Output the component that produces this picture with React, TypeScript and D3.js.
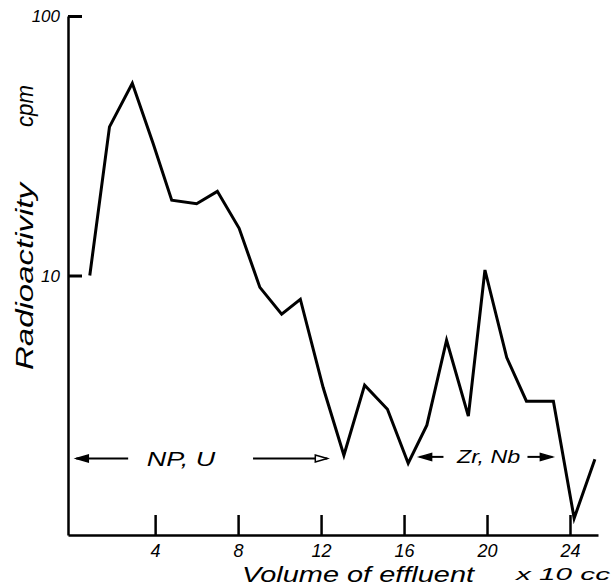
import React, { useRef, useEffect } from 'react';
import * as d3 from 'd3';

// volume of effluent (x 10 cc) and radioactivity (cpm)
const volume = [0.85, 1.8, 2.9, 3.9, 4.8, 6.0, 7.0, 8.05, 9.05, 10.1, 11.0, 12.1, 13.1,
  14.1, 15.2, 16.2, 17.1, 18.05, 19.1, 19.9, 20.95, 21.9, 23.2, 24.2, 25.2];
const cpm = [10.0, 37.4, 55.0, 32.3, 19.5, 18.9, 21.1, 15.2, 9.0, 7.1, 8.1, 3.7, 2.03,
  3.78, 3.05, 1.89, 2.65, 5.63, 2.87, 10.5, 4.83, 3.28, 3.28, 1.16, 1.96];

const xTicks = [4, 8, 12, 16, 20, 24];
const xTickLabels = ['4', '8', '12', '16', '20', '24'];
const yTicks = [10, 100];
const yTickLabels = ['10', '100'];

// band annotations: [arrow from, arrow to] in volume units, label, label range
const npArrowLeft = [0.2, 2.7];
const npArrowRight = [8.72, 12.3];
const npLabel = 'NP, U';
const npLabelRange = [3.6, 6.9];
const npLevel = 1.97;
const zrArrowLeft = [16.75, 17.9];
const zrArrowRight = [21.95, 23.15];
const zrLabel = 'Zr, Nb';
const zrLabelRange = [18.55, 21.6];
const zrLevel = 2.0;

const FONT = '"Liberation Sans", "DejaVu Sans", sans-serif';

const App: React.FC = () => {
  const svgRef = useRef<SVGSVGElement | null>(null);

  useEffect(() => {
    const svg = d3.select(svgRef.current!);
    svg.selectAll('*').remove();

    const x = d3.scaleLinear().domain([-0.2, 25.35]).range([68, 598]);
    const y = d3.scaleLog().domain([1, 100]).range([535, 16]);

    // x axis with upward ticks
    const xAxis = svg.append('g')
      .attr('transform', `translate(0,${y(1)})`)
      .call(d3.axisBottom(x).tickValues(xTicks).tickSizeInner(-20).tickSizeOuter(0)
        .tickFormat((_, i) => xTickLabels[i]));
    xAxis.select('.domain').attr('stroke', '#000').attr('stroke-width', 2.5);
    xAxis.selectAll('.tick line').attr('stroke', '#000').attr('stroke-width', 2.5);
    xAxis.selectAll('.tick text')
      .attr('y', 22)
      .attr('dy', 0)
      .attr('font-family', FONT)
      .attr('font-style', 'italic')
      .attr('font-size', 18)
      .attr('fill', '#000');

    // y axis with ticks to the right
    const yAxis = svg.append('g')
      .attr('transform', `translate(${x(-0.2)},0)`)
      .call(d3.axisLeft(y).tickValues(yTicks).tickSizeInner(-14).tickSizeOuter(0)
        .tickFormat((_, i) => yTickLabels[i]));
    yAxis.select('.domain').attr('stroke', '#000').attr('stroke-width', 2.5);
    yAxis.selectAll('.tick line').attr('stroke', '#000').attr('stroke-width', 3);
    yAxis.selectAll('.tick text')
      .attr('x', -8)
      .attr('dy', '0.35em')
      .attr('font-family', FONT)
      .attr('font-style', 'italic')
      .attr('font-size', 17)
      .attr('fill', '#000');

    // data line
    const line = d3.line<number>()
      .x((_, i) => x(volume[i]))
      .y((d) => y(d));
    svg.append('path')
      .datum(cpm)
      .attr('fill', 'none')
      .attr('stroke', '#000')
      .attr('stroke-width', 3)
      .attr('stroke-linejoin', 'miter')
      .attr('d', line);

    // arrows
    const arrow = (from: number, to: number, level: number, dir: number, open: boolean) => {
      const yy = y(level);
      const x0 = x(from);
      const x1 = x(to);
      svg.append('line')
        .attr('x1', x0).attr('x2', x1)
        .attr('y1', yy).attr('y2', yy)
        .attr('stroke', '#000').attr('stroke-width', 2);
      const tip = dir < 0 ? x0 : x1;
      const back = tip - dir * 12;
      svg.append('path')
        .attr('d', `M${tip},${yy} L${back},${yy - 3.5} L${back},${yy + 3.5} Z`)
        .attr('fill', open ? '#fff' : '#000')
        .attr('stroke', '#000')
        .attr('stroke-width', 1.5);
    };
    arrow(npArrowLeft[0], npArrowLeft[1], npLevel, -1, false);
    arrow(npArrowRight[0], npArrowRight[1], npLevel, 1, true);
    arrow(zrArrowLeft[0], zrArrowLeft[1], zrLevel, -1, false);
    arrow(zrArrowRight[0], zrArrowRight[1], zrLevel, 1, false);

    const label = (txt: string, range: number[], level: number, size: number) => {
      svg.append('text')
        .attr('x', x(range[0]))
        .attr('y', y(level) + size * 0.36)
        .attr('textLength', x(range[1]) - x(range[0]))
        .attr('lengthAdjust', 'spacingAndGlyphs')
        .attr('font-family', FONT)
        .attr('font-style', 'italic')
        .attr('font-size', size)
        .attr('fill', '#000')
        .text(txt);
    };
    label(npLabel, npLabelRange, npLevel, 21);
    label(zrLabel, zrLabelRange, zrLevel, 18);

    // axis titles
    svg.append('text')
      .attr('x', 242).attr('y', 582)
      .attr('textLength', 232)
      .attr('lengthAdjust', 'spacingAndGlyphs')
      .attr('font-family', FONT).attr('font-style', 'italic').attr('font-size', 22)
      .text('Volume of effluent');
    svg.append('text')
      .attr('x', 516).attr('y', 580)
      .attr('textLength', 94)
      .attr('lengthAdjust', 'spacingAndGlyphs')
      .attr('font-family', FONT).attr('font-style', 'italic').attr('font-size', 16)
      .text('x 10 cc');
    svg.append('text')
      .attr('transform', 'translate(33,370) rotate(-90)')
      .attr('textLength', 187)
      .attr('lengthAdjust', 'spacingAndGlyphs')
      .attr('font-family', FONT).attr('font-style', 'italic').attr('font-size', 24)
      .text('Radioactivity');
    svg.append('text')
      .attr('transform', 'translate(33,127) rotate(-90)')
      .attr('textLength', 42)
      .attr('lengthAdjust', 'spacingAndGlyphs')
      .attr('font-family', FONT).attr('font-style', 'italic').attr('font-size', 24)
      .text('cpm');
  }, []);

  return (
    <svg ref={svgRef} width={613} height={588}
      style={{ position: 'absolute', left: 0, top: 0, background: '#fff' }} />
  );
};

export default App;
